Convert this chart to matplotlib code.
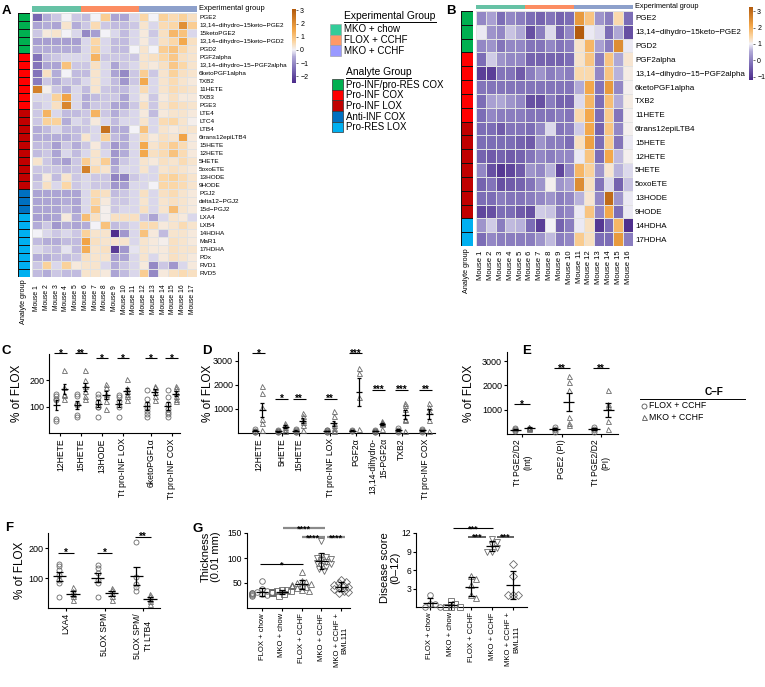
import numpy as np
import matplotlib
matplotlib.use('Agg')
import matplotlib.pyplot as plt
from matplotlib.colors import LinearSegmentedColormap, ListedColormap, Normalize
from matplotlib.patches import Rectangle
from matplotlib.cm import ScalarMappable

plt.rcParams['font.family'] = ['Liberation Sans', 'DejaVu Sans']

# ---------------- data ----------------
rows_A = ['PGE2', '13,14−dihydro−15keto−PGE2', '15ketoPGE2', '13,14−dihydro−15keto−PGD2', 'PGD2',
          'PGF2alpha', '13,14−dihydro−15−PGF2alpha', '6ketoPGF1alpha', 'TXB2', '11HETE', 'TXB3', 'PGE3',
          'LTE4', 'LTC4', 'LTB4', '6trans12epiLTB4', '15HETE', '12HETE', '5HETE', '5oxoETE', '13HODE', '9HODE',
          'PGJ2', 'delta12−PGJ2', '15d−PGJ2',
          'LXA4', 'LXB4', '14HDHA', 'MaR1', '17HDHA', 'PDx', 'RVD1', 'RVD5']
counts_A = [5, 7, 10, 3, 8]
exp_counts_A = [5, 6, 6]
heat_A = [
    [-1.5, -0.5, -0.3, 0.0, -0.3, -0.4, 0.0, 0.8, -0.6, -0.6, -0.2, 0.6, 0.0, 0.7, 0.5, 0.7, 0.4],
    [-0.6, -0.5, -0.6, 0.3, -0.5, -0.3, 0.5, -0.3, -0.4, -0.4, -0.3, 0.3, -0.2, 0.5, 0.6, 2.0, 0.8],
    [-0.3, 0.2, 0.3, 0.0, -0.2, -1.0, -0.7, 0.0, -0.2, -0.4, -0.2, 0.2, -0.3, 0.4, 1.2, 1.0, -0.2],
    [-0.7, -0.7, -0.7, -0.7, -0.7, -0.2, 0.6, -0.2, -0.4, -0.4, -0.2, 0.2, -0.2, 0.4, 0.6, 1.5, 0.4],
    [-0.5, -0.5, -0.5, -0.5, -0.5, -0.2, 0.7, -0.2, -0.4, -0.4, 0.0, 0.3, 0.0, 0.8, 1.0, 0.6, 0.3],
    [-1.3, -0.4, -0.3, -0.2, -0.2, -0.2, 1.3, -0.3, -0.3, -0.3, -0.3, 0.3, 0.4, 0.6, 0.9, 0.4, 0.3],
    [-1.3, -0.6, -0.6, 1.0, -0.3, -0.3, 0.4, -0.2, -0.6, -0.3, -0.2, 0.3, 0.2, 0.4, 0.9, 0.6, 0.3],
    [-1.3, 0.4, -0.5, 0.0, -0.4, -0.4, 0.3, -0.2, -0.6, -1.0, -0.3, 0.8, -0.3, 0.3, 0.7, 0.4, 0.3],
    [-1.2, -0.3, -0.5, -0.3, -0.4, -0.2, 0.3, -0.2, -0.4, -0.8, -0.3, 1.5, -0.2, 0.3, 0.5, 0.3, 0.2],
    [2.3, 0.1, -0.3, -0.5, -0.2, -0.4, 0.3, -0.3, -0.4, -0.4, -0.2, 0.5, -0.2, 0.3, 0.5, 0.4, 0.3],
    [-0.2, -0.2, 0.7, 1.6, -0.2, -0.5, -0.4, -0.3, -0.3, -0.6, -0.2, 0.2, -0.3, 0.2, 0.4, 0.2, 0.2],
    [-0.3, -0.2, 0.4, 2.2, -0.2, -0.5, -0.3, -0.3, -0.6, -0.6, -0.3, 0.4, -0.3, 0.3, 0.5, 0.4, 0.3],
    [-0.3, 1.3, -0.2, -0.4, -0.4, -0.3, 1.3, -0.3, -0.5, -0.3, -0.2, 0.2, -0.4, 0.2, 0.3, 0.3, 0.2],
    [-0.3, 0.7, 0.7, -0.5, -0.2, -0.3, 0.2, -0.2, -0.4, -0.2, -0.2, 0.3, -0.2, 0.5, 0.6, 0.3, 0.1],
    [-0.5, -0.4, -0.2, -0.4, -0.4, -0.3, -0.2, 2.6, -0.5, -0.5, 0.0, 1.0, -0.2, 0.3, 0.2, 0.3, 0.3],
    [-0.5, -0.5, -0.5, -0.5, -0.4, 0.3, -0.2, 0.7, -0.4, -0.5, -0.2, 0.5, 0.2, 0.4, 0.3, 1.6, 0.2],
    [-0.4, -0.4, -0.7, -0.3, -0.5, -0.3, 0.2, -0.3, -0.8, -0.5, -0.2, 1.5, 0.3, 0.5, 0.8, 0.5, 0.2],
    [-0.4, -0.3, -0.6, -0.2, -0.4, -0.2, 0.3, -0.2, -0.8, -0.5, -0.2, 1.5, 0.4, 0.5, 1.0, 0.5, 0.2],
    [0.3, -0.3, -0.5, -0.7, -0.3, 0.8, 0.3, 0.8, -0.7, -0.3, -0.2, 0.3, 0.2, 0.4, 0.3, 0.5, 0.3],
    [-0.3, -0.3, -0.3, -0.4, -0.3, 2.3, 0.5, 0.3, -0.5, -0.2, -0.2, 0.3, -0.2, 0.3, 0.4, 0.3, 0.2],
    [-0.4, 0.2, -0.4, 0.3, -0.3, -0.2, -0.3, -0.3, -1.1, -1.1, -0.3, -0.2, -0.2, 0.6, 0.7, 0.5, 0.3],
    [-0.3, 0.4, -0.2, 0.6, -0.3, -0.2, -0.3, -0.3, -0.8, -0.7, -0.2, -0.2, 0.0, 0.6, 0.6, 0.5, 0.3],
    [-0.6, -0.6, -0.6, -0.6, -0.6, -0.2, 0.5, 0.4, -0.4, -0.3, -0.2, 0.4, -0.2, 0.4, 0.5, 0.3, 0.2],
    [-0.6, -0.6, -0.6, -0.5, -0.6, -0.2, 0.6, 0.2, -0.3, -0.3, -0.2, 0.3, -0.2, 0.3, 0.4, 0.3, 0.2],
    [-0.6, -0.6, -0.6, -0.4, -0.6, -0.2, 0.9, 0.1, -0.3, -0.2, -0.2, 0.4, -0.2, 0.3, 1.1, 0.3, 0.2],
    [-0.7, -0.7, -0.6, 0.2, -0.5, 1.1, 0.4, 0.1, 0.4, 0.4, 0.4, -0.3, -0.6, -0.2, 0.3, 0.2, -0.2],
    [-0.5, -0.3, -0.8, -0.5, -0.6, -0.5, 0.0, 1.0, -0.4, -0.3, -0.2, 0.5, 0.5, 0.2, 0.3, 0.5, 0.3],
    [0.0, -0.2, -0.3, -0.2, -0.3, 0.7, 0.3, 0.3, -2.4, -0.8, -0.2, 1.0, 0.2, -0.4, 0.3, 0.3, 0.2],
    [-0.4, -0.5, -0.5, -0.4, -0.4, 1.6, 0.4, 0.3, 0.3, 0.3, -0.2, 0.3, 0.2, 0.1, 0.4, 0.3, 0.2],
    [-0.2, -0.3, -0.4, -0.1, -0.4, 1.4, 0.3, 0.4, -2.2, -0.8, -0.1, 0.3, 0.2, 0.2, 0.4, 0.3, 0.3],
    [-0.5, -0.5, -0.4, -0.4, -0.3, 0.4, 0.3, 0.3, -0.7, -0.6, -0.2, 0.3, -0.2, 0.2, 0.4, 0.3, 0.2],
    [-0.3, 0.7, -0.2, 0.7, 0.2, 0.3, 0.3, -0.2, -0.5, -0.3, -0.2, 0.2, -1.0, -0.3, -0.8, -0.2, 0.2],
    [-0.4, -0.5, -0.3, -0.4, -0.4, 0.3, 0.3, 0.2, -0.6, -0.4, -0.2, 0.8, -1.0, 0.2, 0.4, 0.5, 0.4],
]

rows_B = ['PGE2', '13,14−dihydro−15keto−PGE2', 'PGD2', 'PGF2alpha', '13,14−dihydro−15−PGF2alpha',
          '6ketoPGF1alpha', 'TXB2', '11HETE', '6trans12epiLTB4', '15HETE', '12HETE', '5HETE',
          '5oxoETE', '13HODE', '9HODE', '14HDHA', '17HDHA']
counts_B = [3, 5, 7, 0, 2]
exp_counts_B = [5, 5, 6]
heat_B = [
    [0.1, 0.4, -0.25, 0.1, -0.05, -0.25, -0.4, -0.15, -0.4, -0.25, 2.3, 1.7, 0.25, -0.05, 1.4, -0.25],
    [0.95, 0.25, 0.1, 0.7, 0.5, -0.65, -0.05, 0.85, -0.4, 0.1, 3.2, 0.95, 0.85, -0.25, 0.5, -0.65],
    [0.1, 0.25, -0.15, 0.1, 0.1, -0.15, -0.15, 0.1, -0.15, -0.05, 1.25, 1.9, 0.4, -0.05, 2.5, 0.95],
    [-0.25, 0.75, 0.25, 0.1, 0.1, -0.4, -0.4, -0.4, -0.4, -0.25, 1.25, 1.7, -0.05, 1.7, 0.5, 1.2],
    [-0.9, -0.9, -0.15, -0.15, -0.5, -0.05, 0.25, -0.05, 0.1, -0.05, 1.4, 1.4, 0.1, 1.7, 0.6, 1.1],
    [-0.15, -0.15, -0.15, -0.15, -0.15, -0.15, -0.15, -0.15, -0.15, -0.15, 0.55, 2.1, -0.15, 2.3, 0.1, 1.05],
    [-0.25, 0.4, 0.5, 0.25, 0.1, -0.65, -0.65, -0.05, -0.4, -0.4, 0.85, 1.9, -0.25, 1.8, 0.55, 1.1],
    [-0.25, 0.1, -0.05, -0.05, -0.05, -0.15, -0.15, -0.15, -0.05, -0.15, 1.4, 2.1, -0.25, 1.6, -0.15, 1.05],
    [-0.25, -0.25, -0.5, -0.15, -0.15, -0.25, 0.1, 0.85, -0.15, -0.05, 0.75, 2.1, -0.4, 1.7, 0.1, 1.05],
    [-0.25, -0.25, -0.25, -0.25, -0.4, -0.5, 0.25, -0.05, -0.05, -0.25, 1.3, 2.2, -0.25, 1.6, -0.15, 0.95],
    [-0.4, -0.5, -0.4, -0.5, -0.4, -0.15, 0.1, -0.05, 0.1, 0.1, 0.95, 1.7, -0.25, 2.1, 0.65, 1.05],
    [0.1, -0.65, -1.0, -0.8, -0.5, 0.25, 0.1, 0.6, -0.8, 0.1, 1.9, 1.5, 0.25, 1.2, 0.6, 0.85],
    [-0.4, -0.15, -0.65, -0.5, -0.4, -0.15, 0.25, 1.05, 0.25, 0.4, 2.5, 1.3, -0.15, 0.85, -0.4, 0.7],
    [-0.25, -0.25, -0.05, -0.15, -0.15, -0.05, 0.1, 0.25, -0.05, 0.1, 0.6, 1.2, 0.1, 3.0, 0.25, 0.95],
    [-0.8, -0.65, -0.25, -0.25, -0.5, -0.65, 0.75, 0.7, -0.05, 0.1, 0.95, 1.7, 0.1, 2.1, -0.25, 0.95],
    [0.25, 0.75, -0.05, 0.65, 0.6, -0.25, -0.9, 1.0, -0.4, -0.05, 0.95, 1.3, -1.0, -0.25, 1.9, -1.1],
    [-0.25, 0.1, -0.05, -0.05, -0.05, -0.05, 0.25, 0.65, -0.05, 0.1, 1.6, 1.3, -0.25, -0.25, 2.3, -0.05],
]

exp_groups = ['MKO + chow', 'FLOX + CCHF', 'MKO + CCHF']
exp_bar_colors = ['#66c2a5', '#fc8d62', '#8da0cb']
exp_leg_colors = ['#33cc99', '#ff9966', '#9999ff']
analyte_groups = ['Pro-INF/pro-RES COX', 'Pro-INF COX', 'Pro-INF LOX', 'Anti-INF COX', 'Pro-RES LOX']
analyte_colors = ['#00b050', '#ff0000', '#c00000', '#0070c0', '#00b0f0']

C_names = ['12HETE', '15HETE', '13HODE', 'Tt pro-INF LOX', '6ketoPGF1α', 'Tt pro-INF COX']
C_flox = [[150, 140, 130, 125, 55, 45], [150, 140, 110, 105, 70, 60], [150, 138, 117, 100, 97, 60],
          [145, 135, 120, 100, 60], [165, 130, 110, 95, 85, 72, 60], [165, 135, 110, 90, 80, 72, 62]]
C_mko = [[240, 175, 150, 145, 130], [240, 200, 180, 160, 140, 130], [185, 175, 150, 140, 120, 90],
         [205, 170, 160, 150, 140, 125], [180, 175, 155, 140, 125], [180, 170, 155, 140, 130, 120]]
C_sig = ['*', '**', '*', '*', '*', '*']

D_names = ['12HETE', '5HETE', '15HETE', 'Tt pro-INF LOX', 'PGF2α', '13,14-dihydro-\n15-PGF2α', 'TXB2',
           'Tt pro-INF COX']
D_flox = [[150, 100, 80, 60, 40], [120, 90, 70, 50, 30], [150, 120, 90, 60, 40], [140, 110, 80, 60, 40],
          [120, 90, 70], [120, 100, 80, 60, 40], [200, 120, 90, 60], [180, 130, 90, 60]]
D_mko = [[1950, 1650, 1100, 600, 400, 130], [420, 350, 250, 170, 70], [830, 700, 560, 450, 350, 140],
         [900, 700, 420, 350, 200, 140, 70], [2700, 2500, 1500, 150], [480, 450, 420, 400, 380, 150],
         [1250, 1150, 1000, 550, 600, 70], [1250, 1080, 900, 560, 70]]
D_sig = ['*', '*', '**', '**', '***', '***', '***', '**']

E_names = ['Tt PGE2/D2\n(Int)', 'PGE2 (PI)', 'Tt PGE2/D2\n(PI)']
E_flox = [[260, 200, 150, 120], [300, 220, 150, 100], [300, 220, 150, 100]]
E_mko = [[300, 280, 260, 240, 220], [2400, 2150, 1800, 700, 450, 350], [1800, 1250, 1150, 550, 220]]
E_sig = ['*', '**', '**']

F_names = ['LXA4', '5LOX SPM', '5LOX SPM/\nTt LTB4']
F_flox = [[148, 139, 126, 111, 94, 83, 37], [142, 133, 117, 94, 83, 37], [219, 105, 80, 70, 58]]
F_mko = [[70, 56, 48, 39, 28], [67, 59, 50, 39, 28], [48, 39, 31, 22, 14]]
F_sig = ['*', '*', '**']

G_names = ['FLOX + chow', 'MKO + chow', 'FLOX + CCHF', 'MKO + CCHF', 'MKO + CCHF +\nBML111']
G_thick = [[55, 38, 35, 33, 32, 30, 30, 28, 28, 27, 26, 25],
           [37, 36, 35, 34, 33, 32, 32, 31, 30, 30, 29, 25],
           [73, 55, 52, 50, 48, 47, 46, 45, 44, 42, 40, 37, 35],
           [135, 105, 102, 100, 98, 96, 93, 90, 88, 85, 82, 78, 74],
           [57, 53, 50, 47, 45, 42, 40, 38, 35, 33, 31]]
G_score = [[2, 0.5, 0.5, 0, 0], [1, 0.5, 0, 0, 0], [5, 4.5, 3.5, 2, 1.5],
           [11, 10.5, 10, 9.5, 9, 9], [7, 5, 2, 2, 2]]
G_markers = ['o', 's', '^', 'v', 'D']

# ---------------- figure ----------------
W, H = 765, 687
fig = plt.figure(figsize=(W / 100, H / 100), dpi=100)


def box(x0, y0, x1, y1):
    return fig.add_axes([x0 / W, 1 - y1 / H, (x1 - x0) / W, (y1 - y0) / H])


ov = box(0, 0, W, H)
ov.set_xlim(0, W)
ov.set_ylim(H, 0)
ov.axis('off')


def make_cmap(vmin, vc, vmax):
    f = (vc - vmin) / (vmax - vmin)
    cols = [(0, '#4b2a8a'), (f * 0.45, '#7f70b8'), (f * 0.8, '#b3acd8'), (f, '#f3f2f7'),
            (f + (1 - f) * 0.2, '#fbd6a4'), (f + (1 - f) * 0.5, '#f3a648'), (1, '#b25a0c')]
    return LinearSegmentedColormap.from_list('hm', cols), Normalize(vmin, vmax)


def heatmap(hbox, ebox, abox, cbox, vals, rows, counts, exp_counts, vlim, cticks, fs_row, fs_mouse,
            mouse_pad, exp_fs, an_pos, an_fs):
    vals = np.array(vals)
    nr, nc = vals.shape
    cmap, norm = make_cmap(*vlim)
    ax = box(*hbox)
    ax.pcolormesh(vals, cmap=cmap, norm=norm, edgecolors='#e2e2e2', linewidth=0.4)
    ax.set_xlim(0, nc)
    ax.set_ylim(nr, 0)
    for s in ax.spines.values():
        s.set_visible(False)
    ax.yaxis.tick_right()
    ax.set_yticks(np.arange(nr) + 0.5)
    ax.set_yticklabels(rows, fontsize=fs_row)
    ax.set_xticks(np.arange(nc) + 0.5)
    ax.set_xticklabels(['Mouse %d' % (i + 1) for i in range(nc)], rotation=90, fontsize=fs_mouse)
    ax.tick_params(axis='y', length=0, pad=1.5)
    ax.tick_params(axis='x', length=0, pad=mouse_pad)

    ae = box(*ebox)
    ae.pcolormesh(np.repeat(np.arange(3), exp_counts)[None, :], cmap=ListedColormap(exp_bar_colors),
                  vmin=-0.5, vmax=2.5)
    ae.set_xlim(0, nc)
    ae.axis('off')
    ov.text(hbox[2] + 2, (ebox[1] + ebox[3]) / 2, 'Experimental group', fontsize=exp_fs, va='center')

    aa = box(*abox)
    aa.pcolormesh(np.repeat(np.arange(5), counts)[:, None], cmap=ListedColormap(analyte_colors),
                  vmin=-0.5, vmax=4.5, edgecolors='#111111', linewidth=0.7)
    aa.set_ylim(nr, 0)
    aa.axis('off')
    ov.text(an_pos[0], an_pos[1], 'Analyte group', rotation=90, fontsize=an_fs, ha='center', va='top')

    cax = box(*cbox)
    cb = fig.colorbar(ScalarMappable(norm=norm, cmap=cmap), cax=cax, ticks=cticks)
    cb.outline.set_visible(False)
    cax.tick_params(labelsize=5, length=1.5, width=0.4, pad=1.5)


heatmap((32, 13, 197, 277), (32, 6, 197, 12), (18, 13, 30, 277), (292, 9, 296, 83),
        heat_A, rows_A, counts_A, exp_counts_A, (-2.5, 0.0, 3.1), [-2, -1, 0, 1, 2, 3],
        4.6, 4.9, 5.5, 5.4, (24, 279), 5.2)
heatmap((476, 11, 633, 246), (476, 5, 633, 9), (461, 11, 473, 246), (749, 7, 753, 80),
        heat_B, rows_B, counts_B, exp_counts_B, (-1.2, 1.0, 3.25), [-1, 0, 1, 2, 3],
        5.8, 5.5, 3, 5.3, (467, 248), 5.2)

# legends for heatmaps
ov.text(344, 16, 'Experimental Group', fontsize=7.4, va='center')
ov.plot([344, 436], [21.5, 21.5], color='k', lw=0.7)
for i, (g, c) in enumerate(zip(exp_groups, exp_leg_colors)):
    y = 24 + i * 10.5
    ov.add_patch(Rectangle((330, y), 11, 10.5, facecolor=c, edgecolor='#999999', lw=0.4))
    ov.text(344, y + 5.5, g, fontsize=7, va='center')
ov.text(346, 72, 'Analyte Group', fontsize=7.4, va='center')
ov.plot([346, 411], [77.5, 77.5], color='k', lw=0.7)
for i, (g, c) in enumerate(zip(analyte_groups, analyte_colors)):
    y = 79 + i * 10.7
    ov.add_patch(Rectangle((332, y), 11, 10.7, facecolor=c, edgecolor='#333333', lw=0.5))
    ov.text(346, y + 5.6, g, fontsize=7, va='center')

# panel letters
for t, x, y in [('A', 2, 5), ('B', 446, 5), ('C', 2, 345), ('D', 202, 345), ('E', 522, 345),
                ('F', 5, 522), ('G', 193, 523)]:
    ov.text(x, y, t, fontsize=9.5, fontweight='bold', va='top', ha='left')


# ---------------- dot plots ----------------
def style(ax, ylim, yticks, pos, labels, xlim, fs_tick=6.5, fs_lab=6.2):
    for s in ['top', 'right']:
        ax.spines[s].set_visible(False)
    for s in ['left', 'bottom']:
        ax.spines[s].set_linewidth(0.8)
    ax.set_ylim(*ylim)
    ax.set_xlim(*xlim)
    ax.set_yticks(yticks)
    ax.tick_params(axis='y', labelsize=fs_tick, length=2.5, width=0.8, pad=1)
    ax.set_xticks(pos)
    ax.set_xticklabels(labels, rotation=90, fontsize=fs_lab)
    ax.tick_params(axis='x', length=2.5, width=0.8, pad=1.2)
    ax.patch.set_alpha(0)


def group(ax, x, vals, marker, ms, hw, cw, sd=False, xoffs=None):
    vals = np.asarray(vals, float)
    xs = np.full(len(vals), float(x)) if xoffs is None else x + np.asarray(xoffs)
    ax.plot(xs, vals, ls='none', marker=marker, ms=ms, mfc='none', mec='#6a6a6a', mew=0.6,
            zorder=3, clip_on=False)
    m = vals.mean()
    e = vals.std(ddof=1)
    if not sd:
        e /= np.sqrt(len(vals))
    kw = dict(color='k', lw=0.9, zorder=4, solid_capstyle='butt')
    ax.plot([x - hw, x + hw], [m, m], **kw)
    ax.plot([x, x], [m - e, m + e], **kw)
    for yy in (m - e, m + e):
        ax.plot([x - cw, x + cw], [yy, yy], **kw)


def sig(ax, x0, x1, y, text, color='k', lw=0.8, fs=7):
    ax.plot([x0, x1], [y, y], color=color, lw=lw, clip_on=False, solid_capstyle='butt')
    ax.annotate(text, ((x0 + x1) / 2, y), xytext=(0, -2.4), textcoords='offset points',
                ha='center', va='baseline', fontsize=fs, fontweight='bold', annotation_clip=False)


def pair_panel(bx, pos, xlim, ylim, yticks, names, flox, mko, sigs, sig_y, off, hw, cw, sw, fs_lab=6.2):
    ax = box(*bx)
    style(ax, ylim, yticks, pos, names, xlim, fs_lab=fs_lab)
    for p, f, m, s, sy in zip(pos, flox, mko, sigs, sig_y):
        group(ax, p - off, f, 'o', 3.6, hw, cw)
        group(ax, p + off, m, '^', 3.6, hw, cw)
        sig(ax, p - sw, p + sw, sy, s)
    return ax


axC = pair_panel((49, 354, 180, 433), [0, 1, 2, 3, 4.35, 5.35], (-0.55, 5.75), (0, 300), [100, 200],
                 C_names, C_flox, C_mko, C_sig, [303, 303, 283, 283, 283, 283], 0.19, 0.17, 0.09, 0.3)
ov.text(17, 393, '% of FLOX', rotation=90, fontsize=8.5, ha='center', va='center')

axD = pair_panel((238, 352, 435, 433), [0, 1, 1.75, 3.1, 4.2, 5.2, 6.2, 7.25], (-0.9, 7.65), (0, 3375),
                 [1000, 2000, 3000], D_names, D_flox, D_mko, D_sig,
                 [3330, 1420, 1420, 1420, 3330, 1800, 1800, 1800], 0.15, 0.15, 0.08, 0.28)
for lab in axD.get_xticklabels():
    lab.set_multialignment('right')
ov.text(208, 393, '% of FLOX', rotation=90, fontsize=8.5, ha='center', va='center')

axE = pair_panel((507, 352, 618, 434), [0, 1, 2], (-0.39, 2.43), (0, 3375), [1000, 2000, 3000],
                 E_names, E_flox, E_mko, E_sig, [1230, 2700, 2700], 0.18, 0.14, 0.07, 0.2)
ov.text(469, 393, '% of FLOX', rotation=90, fontsize=8.5, ha='center', va='center')

# legend for C-F
ov.text(714, 392, 'C–F', fontsize=7.3, fontweight='bold', ha='center', va='center')
ov.plot([640, 745], [399, 399], color='k', lw=0.7)
ov.plot([644], [406], ls='none', marker='o', ms=3.6, mfc='none', mec='#555555', mew=0.6)
ov.text(649, 406, 'FLOX + CCHF', fontsize=6.3, va='center')
ov.plot([644], [417], ls='none', marker='^', ms=3.6, mfc='none', mec='#555555', mew=0.6)
ov.text(649, 417, 'MKO + CCHF', fontsize=6.3, va='center')

axF = pair_panel((48, 533, 160, 608), [0, 1, 2], (-0.47, 2.44), (0, 250), [100, 200],
                 F_names, F_flox, F_mko, F_sig, [185, 185, 237], 0.18, 0.17, 0.09, 0.2)
ov.text(20, 570, '% of FLOX', rotation=90, fontsize=8.5, ha='center', va='center')


# ---------------- G ----------------
def swarm(vals, ppu_x, ppu_y, d=4.2, step=2.4):
    placed, offs = [], []
    for v in vals:
        y = v * ppu_y
        for k in [0, 1, -1, 2, -2, 3, -3, 4, -4]:
            x = k * step
            if all((x - a) ** 2 + (y - b) ** 2 >= d ** 2 for a, b in placed):
                break
        placed.append((x, y))
        offs.append(x / ppu_x)
    return offs


def g_panel(bx, xlim, ylim, yticks, data, sigs):
    ax = box(*bx)
    pos = np.arange(len(data))
    style(ax, ylim, yticks, pos, G_names, xlim, fs_tick=6.2, fs_lab=5.5)
    ppu_x = (bx[2] - bx[0]) / (xlim[1] - xlim[0])
    ppu_y = (bx[3] - bx[1]) / (ylim[1] - ylim[0])
    for p, vals, mk in zip(pos, data, G_markers):
        group(ax, p, vals, mk, 4.0, 0.32, 0.15, sd=True, xoffs=swarm(vals, ppu_x, ppu_y))
    for x0, x1, y, t, c, lw in sigs:
        sig(ax, x0, x1, y, t, color=c, lw=lw, fs=6.5)
    return ax


g_panel((247, 533, 350, 608), (-0.76, 4.44), (0, 150), [50, 100, 150], G_thick,
        [(1.06, 3.18, 160, '****', '#8a8a8a', 1.6), (2.0, 3.18, 142, '****', '#8a8a8a', 1.6),
         (3.28, 4.19, 142, '****', '#8a8a8a', 1.6), (-0.1, 2.07, 88, '*', 'k', 0.8)])
ov.text(211, 557, 'Thickness\n(0.01 mm)', rotation=90, fontsize=8, ha='center', va='center',
        linespacing=1.1)

g_panel((416, 533, 527, 607), (-0.67, 4.68), (0, 12), [3, 6, 9, 12], G_score,
        [(1.1, 3.04, 12.8, '***', 'k', 0.8), (1.83, 2.7, 11.4, '***', '#555555', 1.3),
         (3.23, 4.05, 11.4, '***', '#555555', 1.3)])
ov.text(390, 568, 'Disease score\n(0–12)', rotation=90, fontsize=8, ha='center', va='center',
        linespacing=1.1)

fig.savefig('out.png', dpi=100)
